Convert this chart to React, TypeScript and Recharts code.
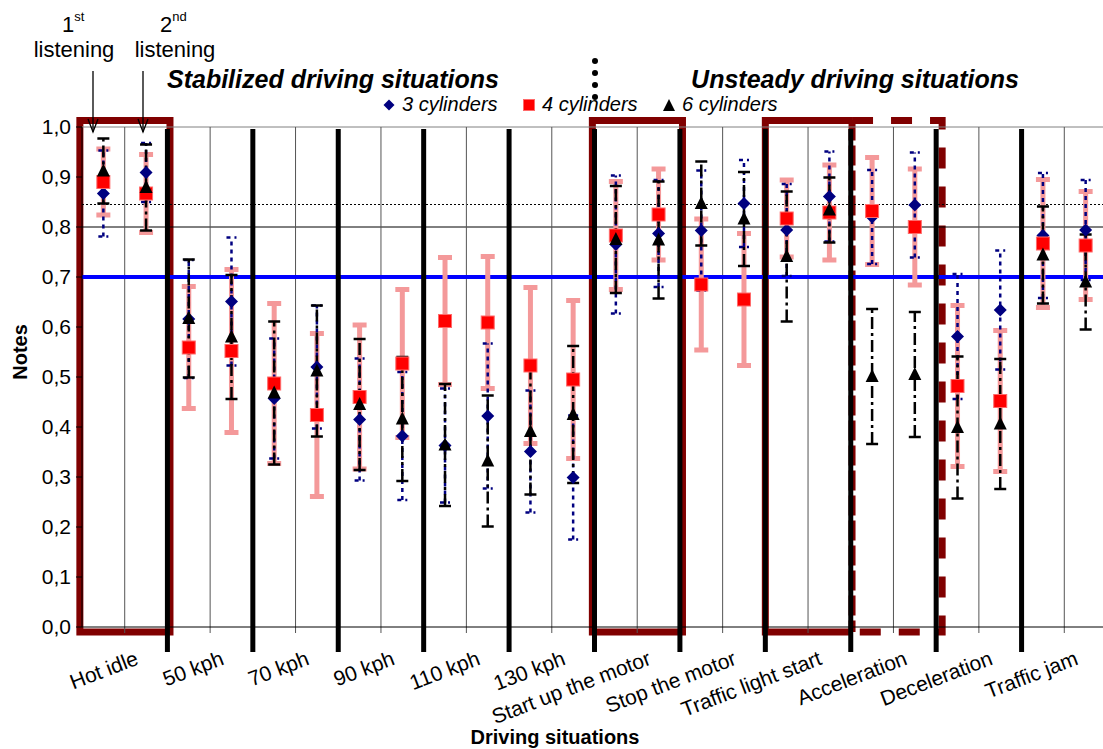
import React from 'react';
import { ComposedChart, Line, ErrorBar, XAxis, YAxis, ReferenceLine, ReferenceArea } from 'recharts';

const FONT = '"Liberation Sans", Arial, sans-serif';

// driving situations, each listened twice (1st / 2nd listening)
const categories = [
  'Hot idle', '50 kph', '70 kph', '90 kph', '110 kph', '130 kph',
  'Start up the motor', 'Stop the motor', 'Traffic light start',
  'Acceleration', 'Deceleration', 'Traffic jam',
];
const listenings = ['1st', '2nd'];

const cyl3Mean = [0.867, 0.909, 0.616, 0.651, 0.457, 0.52, 0.415, 0.382, 0.363, 0.422, 0.351, 0.299,
  0.765, 0.787, 0.793, 0.847, 0.794, 0.861, 0.82, 0.844, 0.581, 0.634, 0.783, 0.794];
const cyl3Err = [0.086, 0.059, 0.118, 0.128, 0.12, 0.123, 0.122, 0.128, 0.114, 0.145, 0.122, 0.124,
  0.138, 0.107, 0.12, 0.087, 0.092, 0.09, 0.094, 0.105, 0.125, 0.119, 0.125, 0.1];

const cyl4Mean = [0.89, 0.867, 0.559, 0.552, 0.487, 0.424, 0.46, 0.527, 0.612, 0.609, 0.523, 0.495,
  0.783, 0.825, 0.685, 0.655, 0.817, 0.829, 0.832, 0.8, 0.482, 0.452, 0.767, 0.763];
const cyl4Err = [0.066, 0.078, 0.122, 0.163, 0.16, 0.163, 0.144, 0.148, 0.127, 0.132, 0.156, 0.158,
  0.108, 0.091, 0.131, 0.132, 0.077, 0.095, 0.107, 0.116, 0.161, 0.141, 0.128, 0.108];

const cyl6Mean = [0.912, 0.879, 0.617, 0.58, 0.468, 0.512, 0.445, 0.416, 0.364, 0.332, 0.391, 0.425,
  0.775, 0.774, 0.847, 0.816, 0.741, 0.834, 0.501, 0.505, 0.399, 0.406, 0.744, 0.69];
const cyl6Err = [0.065, 0.086, 0.118, 0.124, 0.143, 0.131, 0.131, 0.124, 0.122, 0.131, 0.126, 0.137,
  0.107, 0.117, 0.084, 0.094, 0.13, 0.065, 0.135, 0.125, 0.142, 0.13, 0.097, 0.095];

const yTicks = [0, 0.1, 0.2, 0.3, 0.4, 0.5, 0.6, 0.7, 0.8, 0.9, 1.0];
const threshold = 0.7;
const upperRef = 0.8;
const dottedRef = 0.845;

// boxes drawn round some situations (category index ranges)
const solidBoxes = [[0, 0], [6, 6]];
const splitBox = [8, 8];
const dashedBox = [9, 9];

const data = cyl3Mean.map((_, i) => ({
  pos: i + 0.5,
  situation: categories[Math.floor(i / 2)],
  listening: listenings[i % 2],
  c3: cyl3Mean[i], c3Err: cyl3Err[i],
  c4: cyl4Mean[i], c4Err: cyl4Err[i],
  c6: cyl6Mean[i], c6Err: cyl6Err[i],
}));

const slotCount = categories.length * 2;
const innerBounds = categories.map((_, k) => 2 * k + 1);
const catBounds = categories.slice(1).map((_, k) => 2 * (k + 1));
const catCenters = categories.map((_, k) => 2 * k + 1);

const MAROON = '#800000';
const PINK = '#F4999A';
const NAVY = '#000080';

const Diamond = ({ cx, cy, r = 6.5 }: any) => (
  <path d={`M${cx},${cy - r}L${cx + r},${cy}L${cx},${cy + r}L${cx - r},${cy}Z`} fill={NAVY} />
);
const Square = ({ cx, cy, r = 6.5 }: any) => (
  <rect x={cx - r} y={cy - r} width={2 * r} height={2 * r} fill="#FF0000" stroke="#FF6A6A" strokeWidth={1} />
);
const Triangle = ({ cx, cy, r = 6.5 }: any) => (
  <path d={`M${cx},${cy - r - 1}L${cx + r},${cy + r - 1}L${cx - r},${cy + r - 1}Z`} fill="#000" />
);

const SituationTick = (props: any) => {
  const { x, y, payload } = props;
  const label = categories[(payload.value - 1) / 2];
  const tx = x + 15;
  const ty = y + 37;
  return (
    <text x={tx} y={ty} transform={`rotate(-21 ${tx} ${ty})`} textAnchor="end"
      fontSize={21} fill="#000" fontFamily={FONT}>{label}</text>
  );
};

const BoxShape = (props: any) => {
  const { x, y, width, height, variant } = props;
  const r = x + width;
  const b = y + height;
  if (variant === 'dashed') {
    return (
      <path d={`M${x},${y}H${r}V${b}H${x}`} fill="none" stroke={MAROON} strokeWidth={7} strokeDasharray="21 18" />
    );
  }
  if (variant === 'split') {
    return (
      <g>
        <path d={`M${r},${y}H${x}V${b}H${r}`} fill="none" stroke={MAROON} strokeWidth={7} />
        <line x1={r} y1={y} x2={r} y2={b} stroke={MAROON} strokeWidth={7} strokeDasharray="20 5" />
      </g>
    );
  }
  return <rect x={x} y={y} width={width} height={height} fill="none" stroke={MAROON} strokeWidth={7} />;
};

const fmt = (v: number) => v.toFixed(1).replace('.', ',');

export default function App() {
  return (
    <div style={{ position: 'absolute', left: 0, top: 0, width: 1103, height: 749, overflow: 'hidden', background: '#fff' }}>
      <ComposedChart width={1110} height={749} data={data} margin={{ top: 127, right: 3, bottom: 62, left: 0 }}>
        <XAxis type="number" dataKey="pos" domain={[0, slotCount]} ticks={catCenters} interval={0}
          tick={<SituationTick />} tickLine={false} tickSize={0} tickMargin={0} height={60}
          axisLine={{ stroke: '#000', strokeWidth: 1 }} />
        <YAxis type="number" domain={[0, 1]} ticks={yTicks} tickFormatter={fmt} width={82}
          tick={{ fontSize: 21, fill: '#000', fontFamily: FONT }} tickSize={6} tickMargin={5}
          tickLine={{ stroke: '#000' }} axisLine={{ stroke: '#000' }} />

        <ReferenceLine y={1} stroke="#808080" strokeWidth={1} ifOverflow="visible" />
        <ReferenceLine y={upperRef} stroke="#000" strokeWidth={1} />
        <ReferenceLine y={dottedRef} stroke="#000" strokeWidth={1} strokeDasharray="2 2" />
        {innerBounds.map((b) => (
          <ReferenceLine key={`in${b}`} segment={[{ x: b, y: -0.012 }, { x: b, y: 1 }]}
            stroke="#555" strokeWidth={1} ifOverflow="visible" />
        ))}
        <ReferenceLine y={threshold} stroke="#0000FF" strokeWidth={4} />
        {catBounds.map((b) => (
          <ReferenceLine key={`cb${b}`} segment={[{ x: b, y: -0.05 }, { x: b, y: 0.996 }]}
            stroke="#000" strokeWidth={5} ifOverflow="visible" />
        ))}

        {solidBoxes.map(([a, z]) => (
          <ReferenceArea key={`box${a}`} x1={2 * a - 0.05} x2={2 * z + 2.06} y1={-0.01} y2={1.013}
            ifOverflow="visible" shape={(p: any) => <BoxShape {...p} variant="solid" />} />
        ))}
        <ReferenceArea x1={2 * splitBox[0]} x2={2 * splitBox[1] + 2.03} y1={-0.01} y2={1.013}
          ifOverflow="visible" shape={(p: any) => <BoxShape {...p} variant="split" />} />
        <ReferenceArea x1={2 * dashedBox[0] + 0.03} x2={2 * dashedBox[1] + 2.14} y1={-0.01} y2={1.013}
          ifOverflow="visible" shape={(p: any) => <BoxShape {...p} variant="dashed" />} />

        <Line dataKey="c4" stroke="none" dot={false} activeDot={false} legendType="none" isAnimationActive={false}>
          <ErrorBar dataKey="c4Err" direction="y" width={7} stroke={PINK} strokeWidth={5} isAnimationActive={false} />
        </Line>
        <Line dataKey="c3" stroke="none" dot={false} activeDot={false} legendType="none" isAnimationActive={false}>
          <ErrorBar dataKey="c3Err" direction="y" width={5} stroke={NAVY} strokeWidth={2.5} strokeDasharray="4 4" isAnimationActive={false} />
        </Line>
        <Line dataKey="c6" stroke="none" dot={false} activeDot={false} legendType="none" isAnimationActive={false}>
          <ErrorBar dataKey="c6Err" direction="y" width={6} stroke="#000" strokeWidth={2.5} strokeDasharray="12 4 3 4" isAnimationActive={false} />
        </Line>

        <Line dataKey="c3" name="3 cylinders" stroke="none" activeDot={false} isAnimationActive={false}
          dot={(p: any) => <Diamond key={`d${p.index}`} cx={p.cx} cy={p.cy} />} />
        <Line dataKey="c4" name="4 cylinders" stroke="none" activeDot={false} isAnimationActive={false}
          dot={(p: any) => <Square key={`s${p.index}`} cx={p.cx} cy={p.cy} />} />
        <Line dataKey="c6" name="6 cylinders" stroke="none" activeDot={false} isAnimationActive={false}
          dot={(p: any) => <Triangle key={`t${p.index}`} cx={p.cx} cy={p.cy} />} />
      </ComposedChart>

      <svg width={1103} height={749} style={{ position: 'absolute', left: 0, top: 0, pointerEvents: 'none' }}
        fontFamily={FONT}>
        <text x={62} y={32} fontSize={22} fill="#000">1<tspan fontSize={13} dy={-11}>st</tspan></text>
        <text x={74} y={57} fontSize={22} fill="#000" textAnchor="middle">listening</text>
        <text x={160} y={32} fontSize={22} fill="#000">2<tspan fontSize={13} dy={-11}>nd</tspan></text>
        <text x={175} y={57} fontSize={22} fill="#000" textAnchor="middle">listening</text>
        {[93, 143].map((ax) => (
          <g key={ax} stroke="#000" strokeWidth={1.3} fill="none">
            <line x1={ax} y1={71} x2={ax} y2={132} />
            <path d={`M${ax - 5},${119}L${ax},${132}L${ax + 5},${119}`} />
          </g>
        ))}
        <text x={333} y={88} fontSize={25} fontWeight="bold" fontStyle="italic" textAnchor="middle" fill="#000">
          Stabilized driving situations
        </text>
        <text x={855} y={88} fontSize={25} fontWeight="bold" fontStyle="italic" textAnchor="middle" fill="#000">
          Unsteady driving situations
        </text>
        {[61, 73, 85, 97].map((dy) => <circle key={dy} cx={595} cy={dy} r={3} fill="#000" />)}

        <Diamond cx={389} cy={105} r={5.5} />
        <text x={402} y={111} fontSize={20} fontStyle="italic" fill="#000">3 cylinders</text>
        <Square cx={529} cy={105} r={5.5} />
        <text x={542} y={111} fontSize={20} fontStyle="italic" fill="#000">4 cylinders</text>
        <Triangle cx={669} cy={106} r={6} />
        <text x={682} y={111} fontSize={20} fontStyle="italic" fill="#000">6 cylinders</text>

        <text x={0} y={0} transform="translate(27 352) rotate(-90)" fontSize={20} fontWeight="bold"
          textAnchor="middle" fill="#000">Notes</text>
        <text x={555} y={744} fontSize={20} fontWeight="bold" textAnchor="middle" fill="#000">Driving situations</text>
      </svg>
    </div>
  );
}
